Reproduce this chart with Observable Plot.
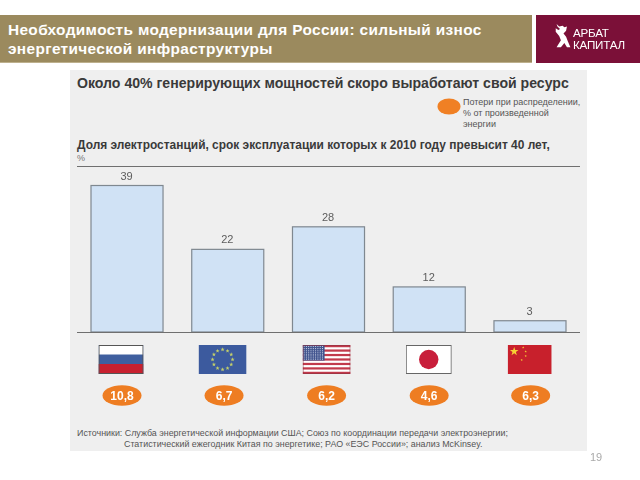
<!DOCTYPE html>
<html lang="ru">
<head>
<meta charset="utf-8">
<script src="https://cdn.jsdelivr.net/npm/d3@7"></script>
<script src="https://cdn.jsdelivr.net/npm/@observablehq/plot@0.6"></script>
<style>
html,body{margin:0;padding:0;background:#fff;width:640px;height:480px;overflow:hidden;font-family:"Liberation Sans",Arial,sans-serif}
#page-wrap{position:absolute;left:0;top:0;width:640px;height:480px;filter:blur(.35px)}
.a{position:absolute;white-space:nowrap}
#head{left:0;top:15px;width:532px;height:48px;background:#9b8a5e;border-bottom:1px solid #bdb08d;box-sizing:border-box}
#title{left:8px;top:20px;color:#fff;font-weight:bold;font-size:15.4px;line-height:19px;letter-spacing:.35px}
#logo{left:536px;top:15px;width:104px;height:48px;background:#7b1038}
#logotext{left:573px;top:27px;color:#fff;font-size:11.6px;line-height:11.5px;letter-spacing:-.2px}
#panel{left:70px;top:70px;width:517px;height:381px;background:#efefef}
#h1{left:77px;top:75px;font-weight:bold;font-size:14.1px;color:#3a3a3a}
#legend{left:463px;top:97px;font-size:9px;line-height:11px;color:#555}
#h2{left:77px;top:138px;font-weight:bold;font-size:11.95px;color:#3a3a3a}
#pct{left:77px;top:153px;font-size:9px;color:#777}
#src{left:77px;top:428px;font-size:8.9px;line-height:11px;color:#555}
#src span{display:inline-block;margin-left:47px}
#page{left:590px;top:451px;font-size:11px;color:#aaa}
#chart{left:0;top:0}
svg{display:block}
</style>
</head>
<body>
<div id="page-wrap">
<div class="a" id="head"></div>
<div class="a" id="title">Необходимость модернизации для России: сильный износ<br>энергетической инфраструктуры</div>
<div class="a" id="logo"></div>
<svg class="a" style="left:554px;top:22px" width="19" height="28" viewBox="0 0 22 30">
<path fill="#fff" d="M3 1l3 3 4-1 2 2 3-1-1 5-3 3 3 4 2 5 3 7-4 0-3-5-4 5H3l5-8-2-5-4-5 0-4 3 2 2-1-3-3z"/>
</svg>
<div class="a" id="logotext">АРБАТ<br>КАПИТАЛ</div>
<div class="a" id="panel"></div>
<div class="a" id="h1">Около 40% генерирующих мощностей скоро выработают свой ресурс</div>
<svg class="a" style="left:437px;top:98px" width="24" height="17"><ellipse cx="12" cy="8.5" rx="11.5" ry="8" fill="#f08024"/></svg>
<div class="a" id="legend">Потери при распределении,<br>% от произведенной<br>энергии</div>
<div class="a" id="h2">Доля электростанций, срок эксплуатации которых к 2010 году превысит 40 лет,</div>
<div class="a" id="pct">%</div>
<div class="a" id="src">Источники: Служба энергетической информации США; Союз по координации передачи электроэнергии;<br><span>Статистический ежегодник Китая по энергетике; РАО «ЕЭС России»; анализ McKinsey.</span></div>
<div class="a" id="page">19</div>
<div class="a" id="chart"></div>
</div>
<script>
const countries = ["Россия", "ЕС", "США", "Япония", "Китай"];
const shares = [39, 22, 28, 12, 3];
const losses = ["10,8", "6,7", "6,2", "4,6", "6,3"];

const table = countries.map((country, i) => ({country, share: shares[i], loss: losses[i]}));

const uri = s => "data:image/svg+xml;utf8," + encodeURIComponent(s);
const star = (cx, cy, r, fill) => {
  let p = "";
  for (let i = 0; i < 10; i++) {
    const a = -Math.PI / 2 + i * Math.PI / 5, q = i % 2 ? r * 0.4 : r;
    p += (cx + q * Math.cos(a)).toFixed(2) + "," + (cy + q * Math.sin(a)).toFixed(2) + " ";
  }
  return `<polygon points="${p}" fill="${fill}"/>`;
};
const wrap = (w, h, body) => uri(`<svg xmlns="http://www.w3.org/2000/svg" width="${w}" height="${h}" viewBox="0 0 ${w} ${h}">${body}</svg>`);

const ruFlag = wrap(45, 29, `<rect width="45" height="29" fill="#3f5f9f"/><rect width="45" height="9.5" fill="#fff"/><rect y="19" width="45" height="10" fill="#c8202f"/><rect x=".5" y=".5" width="44" height="28" fill="none" stroke="#555"/>`);
let euStars = "";
for (let i = 0; i < 12; i++) {
  const a = i * Math.PI / 6;
  euStars += star(24 + 10 * Math.cos(a), 14.5 + 10 * Math.sin(a), 2.2, "#c3cf6a");
}
const euFlag = wrap(48, 29, `<rect width="48" height="29" fill="#3c5a9e"/>${euStars}`);
let usStripes = "";
for (let i = 0; i < 7; i++) usStripes += `<rect y="${(i * 2 * 29 / 13).toFixed(2)}" width="48" height="${(29 / 13).toFixed(2)}" fill="#c23a4c"/>`;
let usDots = "";
for (let r = 0; r < 7; r++) for (let c = 0; c < 9; c++) usDots += `<circle cx="${1.5 + c * 2.3}" cy="${1.5 + r * 2.1}" r=".55" fill="#dfe4f2"/>`;
const usFlag = wrap(48, 29, `<rect width="48" height="29" fill="#fff"/>${usStripes}<rect width="22" height="15.6" fill="#42558f"/>${usDots}<rect x=".5" y=".5" width="47" height="28" fill="none" stroke="#8a3040" stroke-opacity=".6"/>`);
const jpFlag = wrap(46, 29, `<rect width="46" height="29" fill="#fff"/><circle cx="23" cy="14.5" r="9.7" fill="#c81e3a"/><rect x=".5" y=".5" width="45" height="28" fill="none" stroke="#666"/>`);
const cnFlag = wrap(44, 29, `<rect width="44" height="29" fill="#c8202c"/>${star(6.5, 6.5, 4.5, "#f6d034")}${star(15.5, 2.5, 1.2, "#f6d034")}${star(18, 6.5, 1.2, "#f6d034")}${star(18, 11, 1.2, "#f6d034")}${star(14, 15, 1.2, "#f6d034")}`);
const pill = wrap(40, 21, `<ellipse cx="20" cy="10.5" rx="19.5" ry="10.2" fill="#ee7d22"/>`);

const flags = [ruFlag, euFlag, usFlag, jpFlag, cnFlag];
const flagW = [45, 48, 48, 46, 44];
const flagShift = [-6.5, -5.7, -2.4, -1, -0.8];
const pillShift = [-5.5, -4.2, -2.4, -0.6, 0.2];

const chart = Plot.plot({
  width: 640, height: 480,
  marginLeft: 77, marginRight: 60, marginTop: 0, marginBottom: 0,
  style: {background: "transparent", fontFamily: "'Liberation Sans',Arial,sans-serif"},
  x: {type: "band", domain: countries, range: [91, 566], paddingInner: 0.285, paddingOuter: 0, round: false, axis: null},
  y: {domain: [0, 39], range: [332, 185.5], axis: null},
  marks: [
    Plot.barY(table, {x: "country", y: "share", fill: "#d0e2f5", stroke: "#7f8890", strokeWidth: 1.2}),
    Plot.ruleY([0], {stroke: "#6f6f6f", strokeWidth: 1.2}),
    Plot.ruleY([0], {dy: -166, stroke: "#6f6f6f", strokeWidth: 1.2}),
    Plot.text(table, {x: "country", y: "share", text: d => String(d.share), dy: -10, dx: -1, fontSize: 11, fill: "#5c5c5c"}),
    ...table.map((d, i) => Plot.image([d], {x: "country", y: () => 0, src: () => flags[i], width: flagW[i], height: 29, dx: flagShift[i], dy: 27})),
    ...table.map((d, i) => Plot.image([d], {x: "country", y: () => 0, src: () => pill, width: 40, height: 21, dx: pillShift[i], dy: 63})),
    ...table.map((d, i) => Plot.text([d], {x: "country", y: () => 0, text: "loss", dx: pillShift[i], dy: 63.5, fill: "#fff", fontWeight: "bold", fontSize: 12}))
  ]
});
document.getElementById("chart").append(chart);
</script>
</body>
</html>
